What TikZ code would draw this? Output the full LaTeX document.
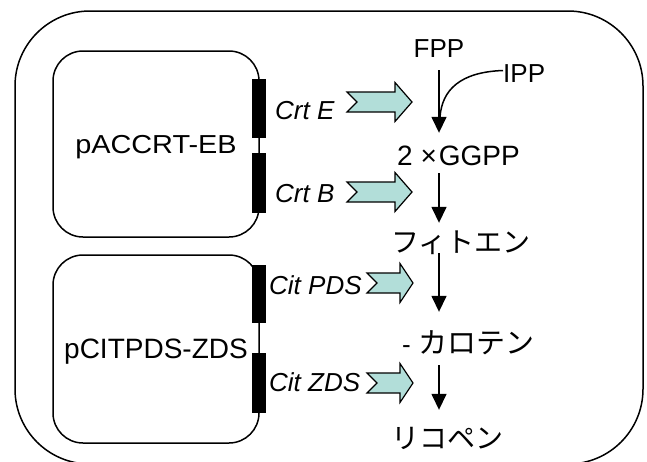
\documentclass[tikz,border=0pt]{standalone}
\usepackage{fontspec}
\setmainfont{Liberation Sans}
\newfontfamily\jp{Noto Sans CJK JP}
\usetikzlibrary{arrows.meta,calc}
\definecolor{tealfill}{RGB}{178,222,217}
\newcommand{\tealarr}[4]{%
  \draw[blockarr] (#1,#4-10) -- (#2,#4-10) -- (#2,#4-19.5) -- (#3,#4) -- (#2,#4+19.5) -- (#2,#4+10) -- (#1,#4+10) -- (#1+10,#4) -- cycle;}
\tikzset{
  lbl/.style={inner sep=0pt, text height=19pt, text depth=0pt, font=\fontsize{26}{30}\selectfont},
  gene/.style={inner sep=0pt, font=\fontsize{26}{30}\selectfont\itshape},
  jptext/.style={inner sep=0pt, text height=19pt, text depth=0pt, font=\fontsize{28}{30}\selectfont\jp},
  plasmid/.style={draw, line width=1.5pt, rounded corners=30pt, inner sep=0pt, text height=19pt, text depth=0pt},
  genebar/.style={fill=black, inner sep=0pt, minimum width=14pt},
  flow/.style={line width=1.5pt, -{Triangle[length=16pt,width=15pt]}},
  blockarr/.style={draw, line width=1.2pt, fill=tealfill, line join=miter},
}
\begin{document}
\begin{tikzpicture}[x=1pt,y=-1pt]
\useasboundingbox[fill=white] (0,0) rectangle (647,461);
% outer cell
\node[draw, line width=1.5pt, rounded corners=75pt, minimum width=628pt, minimum height=453pt] (cell) at (329,237.5) {};
% plasmids
\node[plasmid, minimum width=206pt, minimum height=186pt] (p1) at (156,144)
  {\fontsize{26}{30}\selectfont\scalebox{1.11}[1]{pACCRT-EB}};
\node[plasmid, minimum width=206pt, minimum height=188pt] (p2) at (156,349)
  {\fontsize{28}{30}\selectfont pCITPDS-ZDS};
% gene bars
\node[genebar, minimum height=59pt] (b1) at (259,108.5) {};
\node[genebar, minimum height=60pt] (b2) at (259,183) {};
\node[genebar, minimum height=58pt] (b3) at (259,294) {};
\node[genebar, minimum height=60pt] (b4) at (259,383) {};
% gene labels
\node[gene, anchor=base west] (crtE) at (275,119) {Crt E};
\node[gene, anchor=base west] (crtB) at (275,202) {Crt B};
\node[gene, anchor=base west] (pds) at (269,294) {Cit PDS};
\node[gene, anchor=base west] (zds) at (269,391) {Cit ZDS};
% block arrows
\tealarr{347}{395}{412}{102}
\tealarr{347}{395}{412}{192}
\tealarr{367}{400}{413}{283}
\tealarr{367}{400}{413}{383}
% pathway
\node[lbl, anchor=base] (FPP) at (439,57) {FPP};
\node[lbl, anchor=base west] (IPP) at (503,82) {IPP};
\node[lbl, anchor=base west, font=\fontsize{28}{30}\selectfont] (GGPP) at (397,165) {2 ×\hspace{2pt}GGPP};
\node[jptext, anchor=base west] (phy) at (391,252) {フィトエン};
\node[lbl, anchor=base west] (car) at (402,353) {-\hspace{8pt}{\fontsize{29}{30}\selectfont\jp カロテン}};
\node[jptext, anchor=base west] (lyc) at (391,448) {リコペン};
\coordinate (join) at (440,117);
\draw[flow] ([yshift=-13pt]FPP.south) -- ([yshift=13pt]FPP.south |- GGPP.north);
\draw[line width=1.5pt] ([yshift=2pt]IPP.west) .. controls (460,72) and (442,90) .. (join);
\draw[flow] ([yshift=-8pt]FPP.south |- GGPP.south) -- ([yshift=10pt]FPP.south |- phy.north);
\draw[flow] ([yshift=-1pt]FPP.south |- phy.south) -- ([yshift=22pt]FPP.south |- car.north);
\draw[flow] ([yshift=-12pt]FPP.south |- car.south) -- ([yshift=19pt]FPP.south |- lyc.north);
\end{tikzpicture}
\end{document}
